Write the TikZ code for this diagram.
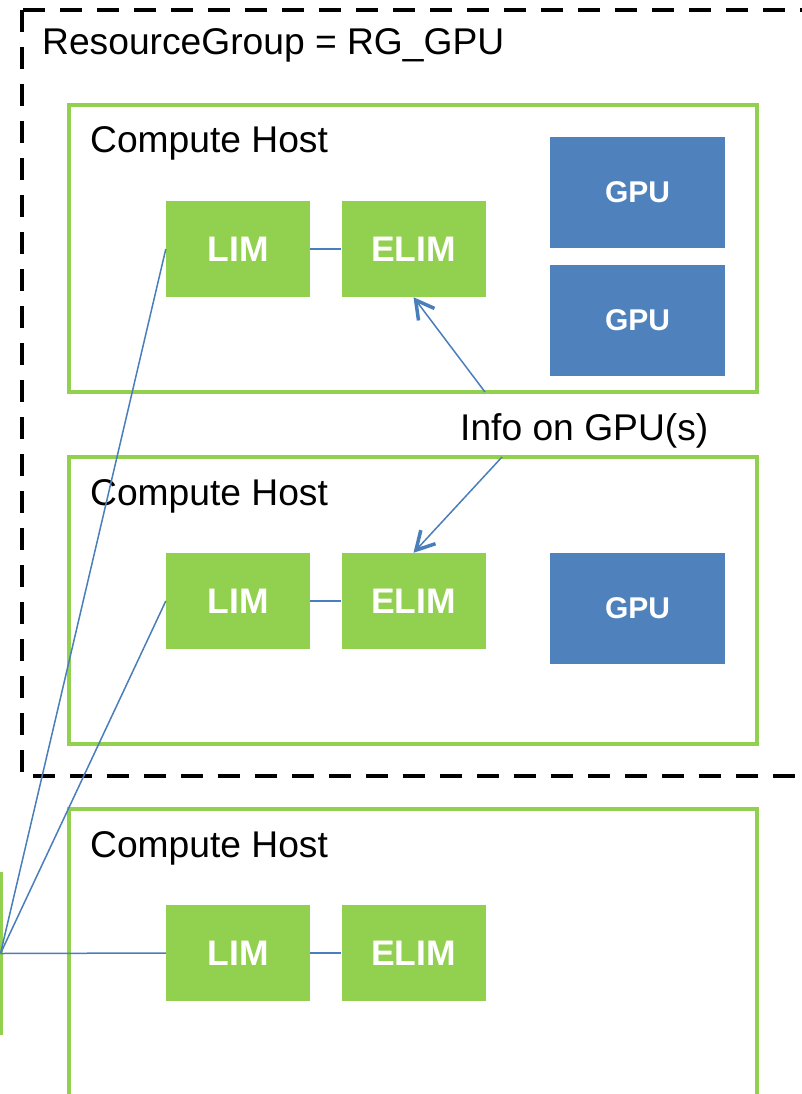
\documentclass[tikz,border=0pt]{standalone}
\usepackage{fontspec}
\setmainfont{Liberation Sans}
\usetikzlibrary{arrows.meta}
\definecolor{hostgreen}{HTML}{92D050}
\definecolor{gpublue}{HTML}{4F81BD}
\definecolor{linkblue}{HTML}{4A7EBB}
\begin{document}
\begin{tikzpicture}[x=1pt,y=-1pt,
  hostbox/.style={draw=hostgreen, line width=4pt},
  groupbox/.style={draw=black, line width=4pt, dash pattern=on 22pt off 15pt},
  daemon/.style={fill=hostgreen, text=white, font=\fontsize{35.5}{40}\selectfont\bfseries,
    minimum width=144pt, minimum height=96pt, inner sep=0pt},
  gpubox/.style={fill=gpublue, text=white, font=\fontsize{30}{36}\selectfont\bfseries,
    minimum width=175pt, minimum height=111pt, inner sep=0pt},
  caption/.style={font=\fontsize{37.2}{44}\selectfont, inner sep=0pt, anchor=base west},
  link/.style={draw=linkblue, line width=1.5pt},
  infoarrow/.style={link, -{Straight Barb[length=18pt,width=20pt,line width=3.5pt]}}
]
\useasboundingbox (0,0) rectangle (802,1094);
\clip (0,0) rectangle (802,1094);

% resource group boundary
\draw[groupbox] (22,10) rectangle (840,776);
\node[caption] (rg) at (42,55) {ResourceGroup = RG\_GPU};

% compute hosts
\draw[hostbox] (69,105) rectangle (757,392);
\draw[hostbox] (69,457) rectangle (757,744);
\draw[hostbox] (69,809) rectangle (757,1120);
\node[caption] (h1) at (90,153) {Compute Host};
\node[caption] (h2) at (90,505) {Compute Host};
\node[caption] (h3) at (90,857) {Compute Host};

% master host (mostly outside the frame)
\node[draw=hostgreen, line width=4pt, minimum width=200pt, minimum height=159pt,
  inner sep=0pt, outer sep=0pt, anchor=east] (master) at (0.5,953.5) {};

% daemons and GPUs
\node[daemon] (l1) at (238,249) {LIM};
\node[daemon] (e1) at (413.5,249) {ELIM};
\node[gpubox] (g1a) at (637.5,192.5) {GPU};
\node[gpubox] (g1b) at (637.5,320.5) {GPU};

\node[daemon] (l2) at (238,601) {LIM};
\node[daemon] (e2) at (413.5,601) {ELIM};
\node[gpubox] (g2) at (637.5,608.5) {GPU};

\node[daemon] (l3) at (238,953) {LIM};
\node[daemon] (e3) at (413.5,953) {ELIM};

% LIM to ELIM links
\draw[link] (l1) -- (e1);
\draw[link] (l2) -- (e2);
\draw[link] (l3) -- (e3);

% master to LIM links
\draw[link] (master.east) -- (l1.west);
\draw[link] (master.east) -- (l2.west);
\draw[link] (master.east) -- (l3.west);

% GPU info callout
\node[caption] (info) at (460,440) {Info on GPU(s)};
\coordinate (infotop) at (485,392);
\coordinate (infobot) at (502,457);
\draw[infoarrow] (infotop) -- (e1.south);
\draw[infoarrow] (infobot) -- (e2.north);
\end{tikzpicture}
\end{document}
